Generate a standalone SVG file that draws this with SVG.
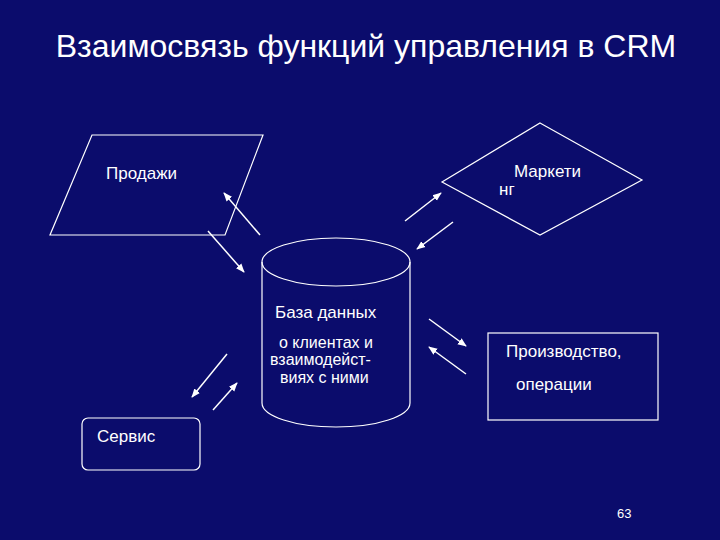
<svg xmlns="http://www.w3.org/2000/svg" width="720" height="540" viewBox="0 0 720 540">
<defs>
<style>
.s{fill:none;stroke:#fff;stroke-width:1.2}
.t{fill:#fff;font-family:"Liberation Sans",Arial,sans-serif;font-size:17px}
.a{stroke:#fff;stroke-width:1.5;marker-end:url(#ah)}
</style>
<marker id="ah" viewBox="0 0 10 10" refX="9" refY="5" markerWidth="6" markerHeight="6" orient="auto"><path d="M0,1L10,5L0,9z" fill="#fff"/></marker>
</defs>
<rect width="720" height="540" fill="#0b0c6c"/>
<text x="366" y="57" text-anchor="middle" class="t" style="font-size:32px">Взаимосвязь функций управления в CRM</text>
<g id="sales"><path class="s" d="M92,135H263L225,235H50Z"/><text class="t" x="106" y="179">Продажи</text></g>
<g id="marketing"><path class="s" d="M540,123L642,180L540,235L442,182Z"/><text class="t" x="514" y="177">Маркети</text><text class="t" x="499" y="195">нг</text></g>
<g id="db"><path class="s" d="M262,262V403A74,24 0 0 0 410,403V262"/><ellipse class="s" cx="336" cy="262" rx="74" ry="24"/>
<text class="t" x="275" y="318">База данных</text><text class="t" x="279" y="348" style="font-size:16px">о клиентах и</text><text class="t" x="270" y="365" style="font-size:16px">взаимодейст-</text><text class="t" x="280" y="383" style="font-size:16px">виях с ними</text></g>
<g id="production"><rect class="s" x="488" y="333" width="170" height="87"/><text class="t" x="506" y="357">Производство,</text><text class="t" x="516" y="390">операции</text></g>
<g id="service"><rect class="s" x="82" y="418" width="118" height="52" rx="6"/><text class="t" x="97" y="442">Сервис</text></g>
<text class="t" x="617" y="518" style="font-size:13px">63</text>
<g id="connectors">
<line class="a" x1="260" y1="235" x2="224" y2="193"/>
<line class="a" x1="208" y1="231" x2="244" y2="272"/>
<line class="a" x1="405" y1="221" x2="441" y2="193"/>
<line class="a" x1="453" y1="222" x2="417" y2="249"/>
<line class="a" x1="429" y1="319" x2="466" y2="346"/>
<line class="a" x1="466" y1="374" x2="429" y2="347"/>
<line class="a" x1="227" y1="354" x2="192" y2="397"/>
<line class="a" x1="213" y1="410" x2="237" y2="383"/>
</g>
</svg>
